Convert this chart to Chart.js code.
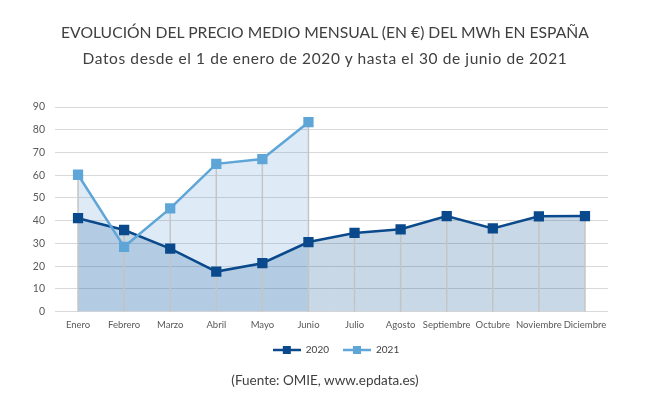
<!DOCTYPE html>
<html>
<head>
<meta charset="utf-8">
<script src="https://cdn.jsdelivr.net/npm/chart.js@4"></script>
<style>
  html, body { margin: 0; padding: 0; background: #fff; }
  .wrap { position: relative; width: 650px; height: 394px; font-family: Lato, sans-serif; color: #404040; }
  .wrap canvas { position: absolute; left: 0; top: 0; }
  .txt { position: absolute; left: 0; width: 650px; text-align: center; white-space: nowrap; }
  .titulo { top: 22px; font-size: 15.7px; line-height: 20px; }
  .subtitulo { top: 48px; font-size: 15.5px; line-height: 20px; letter-spacing: 0.6px; }
  .fuente { top: 372px; font-size: 13.5px; line-height: 16px; }
</style>
</head>
<body>
<div class="wrap">
  <canvas id="myChart" width="650" height="394"></canvas>
  <div class="txt titulo">EVOLUCIÓN DEL PRECIO MEDIO MENSUAL (EN €) DEL MWh EN ESPAÑA</div>
  <div class="txt subtitulo">Datos desde el 1 de enero de 2020 y hasta el 30 de junio de 2021</div>
  <div class="txt fuente">(Fuente: OMIE, www.epdata.es)</div>
</div>
<script>
const meses = ['Enero', 'Febrero', 'Marzo', 'Abril', 'Mayo', 'Junio', 'Julio', 'Agosto', 'Septiembre', 'Octubre', 'Noviembre', 'Diciembre'];
const precios2020 = [41.1, 35.9, 27.7, 17.6, 21.3, 30.6, 34.6, 36.2, 42.0, 36.6, 41.9, 42.0];
const precios2021 = [60.2, 28.5, 45.4, 65.0, 67.1, 83.3];
const ticksY = [0, 10, 20, 30, 40, 50, 60, 70, 80, 90];

const azulOscuro = '#0a4a8c';
const azulClaro = '#5ea5d8';
const fuente = 'Lato, sans-serif';

// marcador de leyenda: linea con cuadrado
function marcador(color) {
    const c = document.createElement('canvas');
    c.width = 28; c.height = 10;
    const g = c.getContext('2d');
    g.strokeStyle = color; g.lineWidth = 2.5;
    g.beginPath(); g.moveTo(0, 5); g.lineTo(28, 5); g.stroke();
    g.fillStyle = color; g.fillRect(10, 1, 8, 8);
    return c;
}

// lineas verticales desde cada punto hasta el eje + leyenda desplazada
const lineasCaida = {
    id: 'lineasCaida',
    afterLayout(chart) {
        chart.legend.left += 32;
        chart.legend.right += 32;
    },
    beforeDatasetsDraw(chart) {
        const { ctx, scales: { x, y } } = chart;
        ctx.save();
        ctx.strokeStyle = '#c4c4c4';
        ctx.lineWidth = 1.5;
        meses.forEach((m, i) => {
            const vals = [precios2020[i], precios2021[i]].filter(v => v !== undefined);
            const max = Math.max(...vals);
            const px = x.getPixelForValue(i);
            ctx.beginPath();
            ctx.moveTo(px, y.getPixelForValue(0));
            ctx.lineTo(px, y.getPixelForValue(max));
            ctx.stroke();
        });
        ctx.restore();
    }
};

new Chart(document.getElementById('myChart').getContext('2d'), {
    type: 'line',
    data: {
        labels: meses,
        datasets: [{
            label: '2020',
            data: precios2020,
            borderColor: azulOscuro,
            backgroundColor: 'rgba(11, 79, 145, 0.22)',
            fill: 'origin',
            borderWidth: 2.5,
            pointStyle: 'rect',
            pointRadius: 5.5,
            pointBackgroundColor: azulOscuro,
            pointBorderColor: azulOscuro,
            tension: 0,
            order: 1
        }, {
            label: '2021',
            data: precios2021,
            borderColor: azulClaro,
            backgroundColor: 'rgba(91, 155, 213, 0.2)',
            fill: 'origin',
            borderWidth: 2.5,
            pointStyle: 'rect',
            pointRadius: 5.5,
            pointBackgroundColor: azulClaro,
            pointBorderColor: azulClaro,
            tension: 0,
            order: 0
        }]
    },
    options: {
        responsive: false,
        animation: false,
        layout: { padding: { left: 0, right: 42, top: 107, bottom: 29 } },
        scales: {
            x: {
                offset: true,
                grid: { display: false },
                border: { display: false },
                ticks: { color: '#595959', font: { family: fuente, size: 9.5 }, maxRotation: 0, autoSkip: false, padding: 0 }
            },
            y: {
                min: 0,
                max: 90,
                afterBuildTicks(scale) { scale.ticks = ticksY.map(v => ({ value: v })); },
                afterFit(scale) { scale.width = 55; },
                grid: { color: '#d9d9d9', lineWidth: 1, drawTicks: false },
                border: { display: false },
                ticks: { color: '#595959', font: { family: fuente, size: 10.5 }, padding: 10 }
            }
        },
        plugins: {
            filler: { drawTime: 'beforeDatasetsDraw' },
            tooltip: { enabled: false },
            legend: {
                position: 'bottom',
                labels: {
                    usePointStyle: true,
                    pointStyleWidth: 28,
                    boxHeight: 10,
                    color: '#404040',
                    font: { family: fuente, size: 10 },
                    padding: 14,
                    generateLabels(chart) {
                        return chart.data.datasets.map((ds, i) => ({
                            text: ds.label,
                            datasetIndex: i,
                            pointStyle: marcador(ds.borderColor),
                            fillStyle: ds.borderColor,
                            strokeStyle: ds.borderColor,
                            lineWidth: 0,
                            fontColor: '#404040'
                        }));
                    }
                }
            }
        }
    },
    plugins: [lineasCaida]
});
</script>
</body>
</html>
